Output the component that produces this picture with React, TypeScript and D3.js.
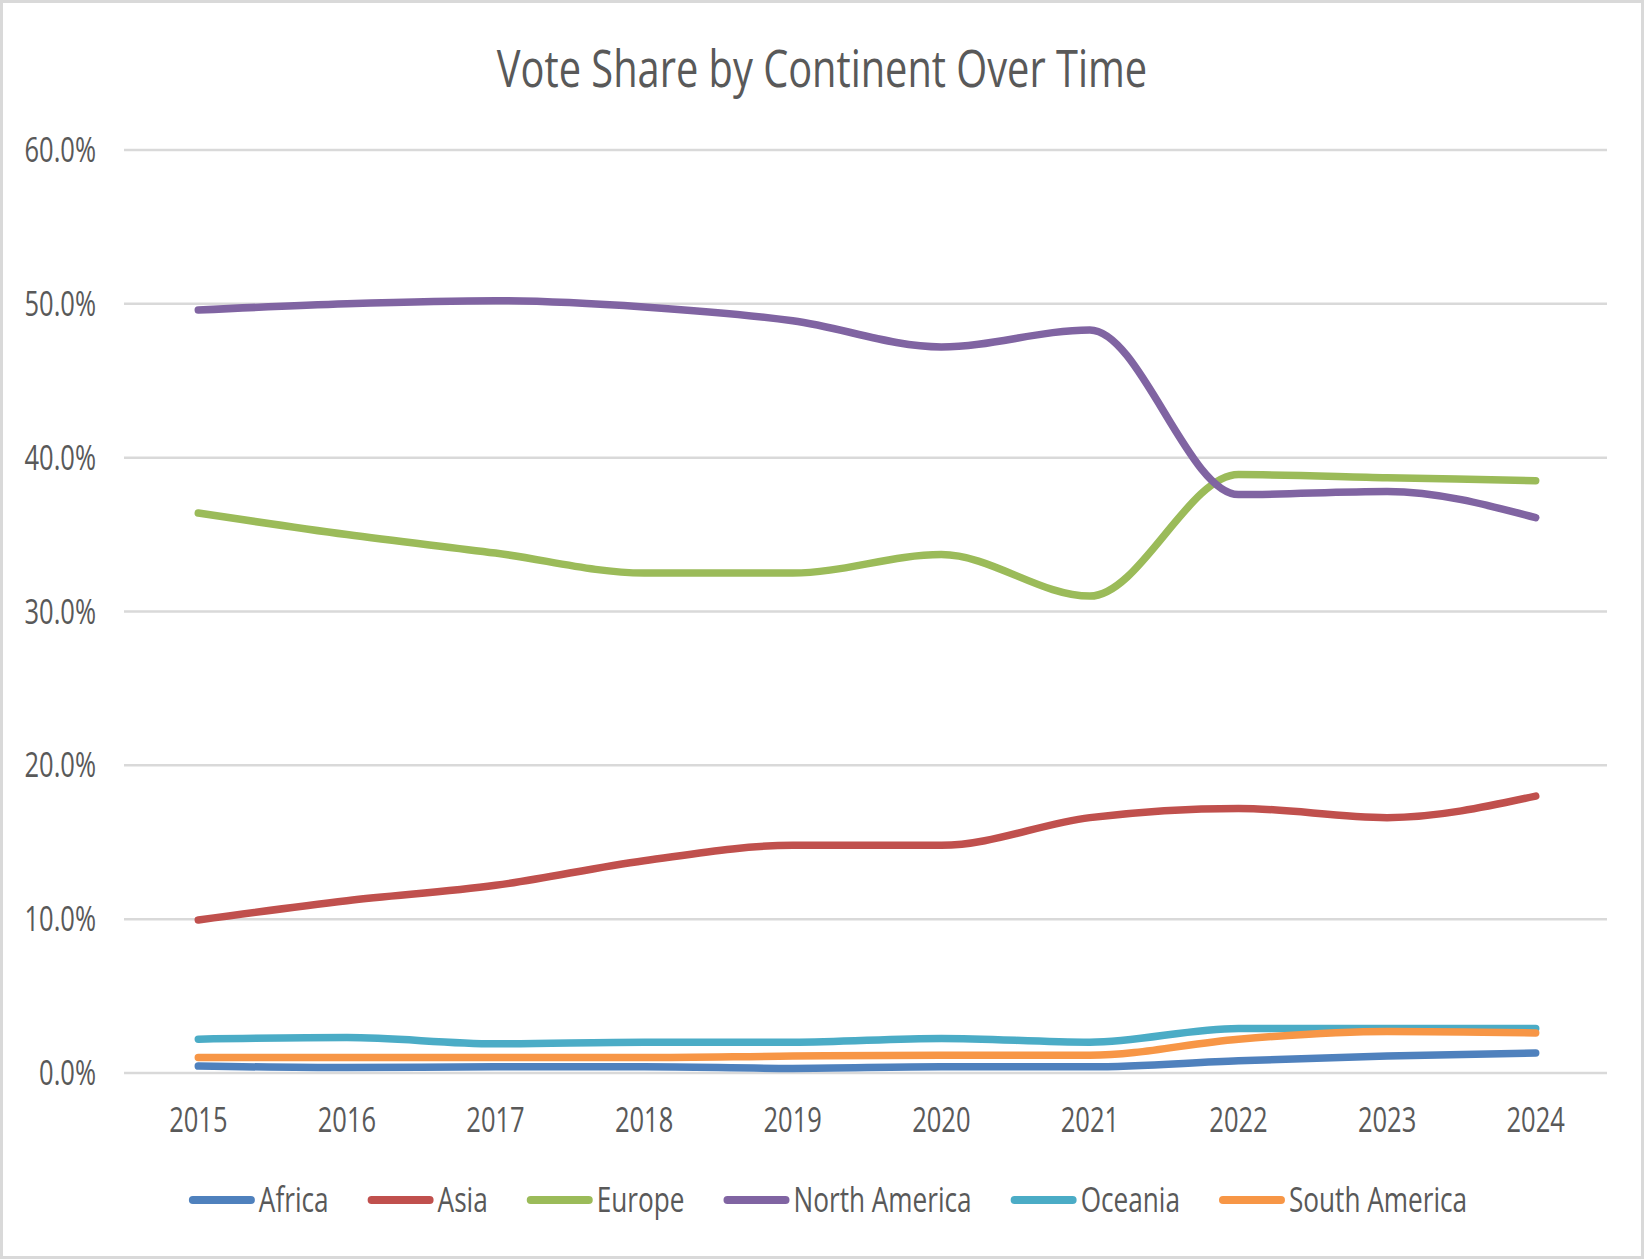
import React, { useEffect, useRef } from "react";
import * as d3 from "d3";

const years = ["2015", "2016", "2017", "2018", "2019", "2020", "2021", "2022", "2023", "2024"];
const seriesNames = ["Africa", "Asia", "Europe", "North America", "Oceania", "South America"];
const seriesColors = ["#4F81BD", "#C0504D", "#9BBB59", "#8064A2", "#4BACC6", "#F79646"];
const africa = [0.45, 0.35, 0.4, 0.4, 0.3, 0.4, 0.4, 0.8, 1.1, 1.3];
const asia = [9.95, 11.2, 12.2, 13.8, 14.8, 14.8, 16.6, 17.2, 16.6, 18.0];
const europe = [36.4, 35.0, 33.8, 32.5, 32.5, 33.7, 31.0, 38.9, 38.7, 38.5];
const northAmerica = [49.6, 50.0, 50.2, 49.8, 48.9, 47.2, 48.3, 37.6, 37.8, 36.1];
const oceania = [2.2, 2.3, 1.9, 2.0, 2.0, 2.25, 2.0, 2.9, 2.9, 2.9];
const southAmerica = [1.0, 1.0, 1.0, 1.0, 1.1, 1.15, 1.15, 2.2, 2.7, 2.6];
const yTicks = [0, 10, 20, 30, 40, 50, 60];
const title = "Vote Share by Continent Over Time";

const W = 1644;
const H = 1259;
const FONT = "'Open Sans', sans-serif";
const SX = 0.75;
const TEXT = "#595959";

export default function App() {
  const ref = useRef<SVGSVGElement | null>(null);
  useEffect(() => {
    const svg = d3.select(ref.current);
    svg.selectAll("*").remove();
    const values = [africa, asia, europe, northAmerica, oceania, southAmerica];

    svg.append("rect").attr("x", 0).attr("y", 0).attr("width", W).attr("height", H).attr("fill", "#fff");
    svg.append("rect").attr("x", 1.5).attr("y", 1.5).attr("width", W - 3).attr("height", H - 3)
      .attr("fill", "none").attr("stroke", "#D9D9D9").attr("stroke-width", 3);

    const x = d3.scalePoint<string>().domain(years).range([124, 1610]).padding(0.5);
    const y = d3.scaleLinear().domain([0, 60]).range([1073, 150]);

    const addText = (tx: number, ty: number, s: string, size: number, anchor: string, sx = SX) => {
      const g = svg.append("g").attr("transform", `translate(${tx},${ty}) scale(${sx},1)`);
      return g.append("text").attr("x", 0).attr("y", 0).attr("text-anchor", anchor)
        .attr("font-family", FONT).attr("font-size", size).attr("fill", TEXT).text(s);
    };

    // title
    addText(W / 2, 87, title, 52, "middle", 0.765);

    // gridlines & y labels
    yTicks.forEach((t) => {
      svg.append("line").attr("x1", 124).attr("x2", 1607).attr("y1", y(t)).attr("y2", y(t))
        .attr("stroke", "#D9D9D9").attr("stroke-width", 2.5);
      addText(96, y(t) + 12, d3.format(".1f")(t) + "%", 34, "end");
    });

    // x labels
    years.forEach((yr) => {
      addText(x(yr)!, 1132, yr, 34, "middle");
    });

    // lines
    const line = d3.line<number>()
      .x((_, i) => x(years[i])!)
      .y((v) => y(v))
      .curve(d3.curveMonotoneX);
    values.forEach((vals, i) => {
      svg.append("path").attr("d", line(vals)!).attr("fill", "none")
        .attr("stroke", seriesColors[i]).attr("stroke-width", 7.5)
        .attr("stroke-linecap", "round").attr("stroke-linejoin", "round");
    });

    // legend
    const legendG = svg.append("g");
    const lineLen = 66;
    const gapText = 4;
    const gapItem = 39;
    let cx = 0;
    const ly = 1200;
    const lsx = 0.77;
    seriesNames.forEach((name, i) => {
      legendG.append("line").attr("x1", cx + 4).attr("x2", cx + lineLen - 4).attr("y1", ly).attr("y2", ly)
        .attr("stroke", seriesColors[i]).attr("stroke-width", 8).attr("stroke-linecap", "round");
      const g = legendG.append("g").attr("transform", `translate(${cx + lineLen + gapText},${ly + 12}) scale(${lsx},1)`);
      const t = g.append("text").attr("font-family", FONT).attr("font-size", 34).attr("fill", TEXT).text(name);
      const w = (t.node() as SVGTextElement).getComputedTextLength() * lsx;
      cx += lineLen + gapText + w + gapItem;
    });
    const total = cx - gapItem;
    legendG.attr("transform", `translate(${W / 2 - total / 2 + 6},0)`);
  }, []);
  return (
    <svg ref={ref} width={W} height={H}
      style={{ position: "absolute", left: 0, top: 0, display: "block" }} />
  );
}
